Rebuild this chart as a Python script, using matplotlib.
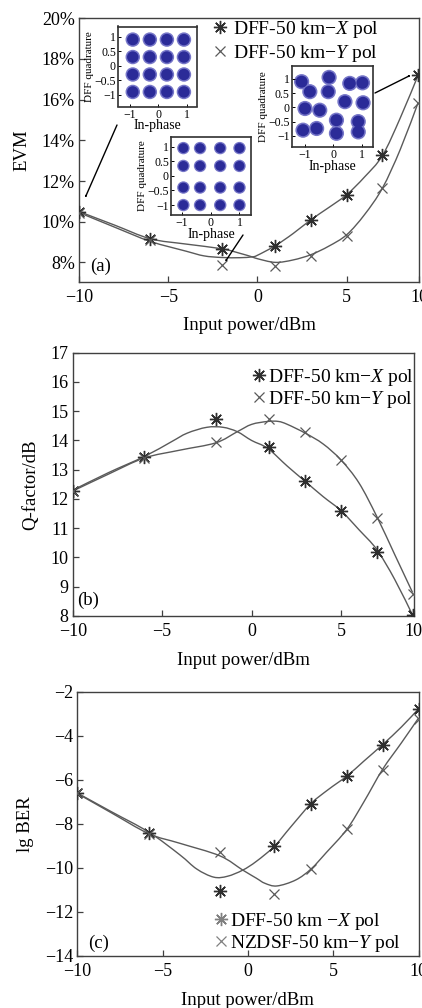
import numpy as np
import matplotlib
matplotlib.use("Agg")
import matplotlib.pyplot as plt
from matplotlib import ticker
from matplotlib.path import Path
from matplotlib.patches import PathPatch, FancyArrowPatch

plt.rcParams['font.family'] = ['Liberation Serif', 'DejaVu Serif']
plt.rcParams['mathtext.fontset'] = 'custom'
plt.rcParams['mathtext.rm'] = 'Liberation Serif'
plt.rcParams['mathtext.it'] = 'Liberation Serif:italic'

# ---------------- data ----------------
# (a) EVM
evm_x = [-10, -6, -2, 1, 3, 5, 7, 9]
evm_xpol = [10.5, 9.16, 8.67, 8.82, 10.1, 11.3, 13.3, 17.2]
evm_ypol = [10.45, 9.08, 7.87, 7.84, 8.33, 9.31, 11.68, 15.86]
evm_curveA_x = [-10, -8, -6, -4, -2, -1, -0.3, 0, 1, 2, 3, 4, 5, 6, 7, 8, 9]
evm_curveA_y = [10.5, 9.83, 9.16, 8.9, 8.67, 8.45, 8.27, 8.18, 8.0, 8.12, 8.38, 8.8, 9.36, 10.35, 11.65, 13.55, 15.85]
evm_curveB_x = [-10, -8, -6, -4, -3, -2, -1, -0.3, 0, 1, 2, 3, 4, 5, 6, 7, 8, 9]
evm_curveB_y = [10.45, 9.73, 9.03, 8.55, 8.32, 8.24, 8.23, 8.27, 8.35, 8.82, 9.42, 10.1, 10.7, 11.33, 12.2, 13.25, 15.1, 17.2]
evm_yticks = [8, 10, 12, 14, 16, 18, 20]

# (b) Q-factor
q_x = [-10, -6, -2, 1, 3, 5, 7, 9]
q_xpol = [12.27, 13.45, 14.72, 13.78, 12.6, 11.6, 10.2, 8.03]
q_ypol = [12.27, 13.4, 13.95, 14.75, 14.28, 13.33, 11.36, 8.75]
q_curveA_x = [-10, -8, -6, -4.5, -3.6, -2.5, -1.6, -0.8, 0, 0.9, 2, 3, 4, 5, 6, 7, 8, 9]
q_curveA_y = [12.3, 12.9, 13.45, 13.95, 14.25, 14.45, 14.45, 14.3, 14.0, 13.73, 13.12, 12.6, 12.08, 11.6, 10.95, 10.27, 9.25, 8.03]
q_curveB_x = [-10, -8, -6, -4, -2, -0.8, 0, 0.9, 1.5, 2, 3, 4, 5, 6, 7, 8, 9]
q_curveB_y = [12.27, 12.85, 13.4, 13.67, 13.92, 14.3, 14.55, 14.65, 14.65, 14.55, 14.25, 13.88, 13.33, 12.55, 11.4, 10.1, 8.8]

# (c) lg BER
ber_x = [-10, -5.8, -1.65, 1.55, 3.7, 5.8, 7.9, 10]
ber_xpol = [-6.58, -8.4, -11.03, -9.0, -7.08, -5.83, -4.4, -2.78]
ber_ypol = [-6.62, -8.48, -9.28, -11.2, -10.05, -8.22, -5.55, -3.22]
ber_curveA_x = [-10, -8, -5.8, -4, -3, -2, -1.2, -0.3, 0.5, 1.55, 2.5, 3.7, 4.7, 5.8, 6.8, 7.9, 9, 10]
ber_curveA_y = [-6.6, -7.45, -8.38, -9.4, -10.05, -10.42, -10.38, -10.1, -9.7, -9.02, -8.15, -7.08, -6.45, -5.83, -5.15, -4.4, -3.6, -2.78]
ber_curveB_x = [-10, -8, -5.8, -4, -1.65, -0.3, 0.5, 1.0, 1.7, 2.8, 3.7, 4.6, 5.8, 6.8, 7.9, 9, 10]
ber_curveB_y = [-6.62, -7.5, -8.45, -8.88, -9.45, -10.1, -10.47, -10.7, -10.82, -10.55, -10.05, -9.3, -8.25, -7.0, -5.52, -4.32, -3.2]

# constellation insets (cluster centres)
c1_levels = [-0.9, -0.3, 0.3, 0.9]
c2_levels_i = [-0.95, -0.37, 0.33, 1.0]
c2_levels_q = [0.95, 0.34, -0.4, -1.0]
c3_i = [-1.12, -0.83, -0.15, -0.18, 0.58, 1.03, 0.41, 1.05, -1.0, -0.48, 0.11, 0.88, -1.07, -0.59, 0.11, 0.88]
c3_q = [0.9, 0.55, 1.05, 0.55, 0.84, 0.86, 0.2, 0.16, -0.04, -0.1, -0.45, -0.5, -0.8, -0.74, -0.91, -0.86]

legend_ab = ["DFF-50 km\u2212$X$ pol", "DFF-50 km\u2212$Y$ pol"]
legend_c = ["DFF-50 km \u2212$X$ pol", "NZDSF-50 km\u2212$Y$ pol"]

# ---------------- styling ----------------
LINE_C = '#5a5a5a'
STAR_C = '#2e2e2e'
XM_C = '#5a5a5a'
BLUE = '#2b2b98'
HALO = '#7676c8'
STAR = (8, 2, 0)
TICK_FS = 13
LAB_FS = 13.5
LEG_FS = 14

W, H = 422, 1008
fig = plt.figure(figsize=(W / 100, H / 100), dpi=100)


def rect(l, r, t, b):
    return [l / W, 1 - b / H, (r - l) / W, (b - t) / H]


def style(ax):
    for s in ax.spines.values():
        s.set_color('#404040')
        s.set_linewidth(1.0)
    ax.tick_params(direction='in', length=4, width=0.9, colors='#404040',
                   labelsize=TICK_FS, labelcolor='black', pad=3)
    ax.tick_params(axis='x', pad=5)


def smooth_curve(ax, xs, ys):
    # smooth Bezier path through the read curve knots
    pts = np.column_stack([xs, ys]).astype(float)
    n = len(pts)
    verts = [pts[0]]
    codes = [Path.MOVETO]
    for i in range(n - 1):
        p0 = pts[i - 1] if i > 0 else pts[i]
        p1, p2 = pts[i], pts[i + 1]
        p3 = pts[i + 2] if i + 2 < n else pts[i + 1]
        verts += [p1 + (p2 - p0) / 6.0, p2 - (p3 - p1) / 6.0, p2]
        codes += [Path.CURVE4] * 3
    ax.add_patch(PathPatch(Path(verts, codes), facecolor='none', edgecolor=LINE_C,
                           lw=1.0, zorder=2))


def draw(ax, xs, ya, yb, cax, cay, cbx, cby):
    smooth_curve(ax, cax, cay)
    smooth_curve(ax, cbx, cby)
    ax.plot(xs, ya, linestyle='none', marker=STAR, markersize=9.5, mew=1.0,
            color=STAR_C, zorder=3)
    ax.plot(xs, yb, linestyle='none', marker='x', markersize=7, mew=0.9,
            color=XM_C, zorder=3)


def handles(ax, col1, col2):
    return [ax.plot([], [], linestyle='none', marker=STAR, markersize=9.5, mew=1.0, color=col1)[0],
            ax.plot([], [], linestyle='none', marker='x', markersize=7, mew=0.9, color=col2)[0]]


# ---------- panel (a) ----------
axa = fig.add_axes(rect(79, 419, 18.3, 281.7))
style(axa)
draw(axa, evm_x, evm_xpol, evm_ypol, evm_curveA_x, evm_curveA_y, evm_curveB_x, evm_curveB_y)
axa.set_xlim(-10, 9.05)
axa.set_ylim(7.05, 20)
axa.set_yticks(evm_yticks)
axa.yaxis.set_major_formatter(ticker.FuncFormatter(lambda v, p: f"{v:.0f}%"))
axa.set_xticks([-10, -5, 0, 5, 9.05])
axa.set_xticklabels(['\u221210', '\u22125', '0', '5', '10'])
axa.set_ylabel('EVM', fontsize=LAB_FS, labelpad=8)
axa.set_xlabel('Input power/dBm', fontsize=LAB_FS, labelpad=8)
axa.text(0.032, 0.058, '(a)', transform=axa.transAxes, fontsize=LAB_FS, va='center')
axa.legend(handles(axa, STAR_C, XM_C), legend_ab, loc='upper right', bbox_to_anchor=(0.885, 1.0),
           frameon=False, fontsize=LEG_FS, handlelength=0.7, handletextpad=0.3, borderpad=0.0,
           labelspacing=0.12, borderaxespad=0.05)


def inset(r, ci, cq, size, xl, yl):
    ax = fig.add_axes(rect(*r))
    ax.scatter(ci, cq, s=size * 1.6, color=HALO, edgecolors='none', zorder=1)
    ax.scatter(ci, cq, s=size, color=BLUE, edgecolors='none', zorder=2)
    ax.set_xlim(*xl)
    ax.set_ylim(*yl)
    ax.set_xticks([-1, 0, 1])
    ax.set_xticklabels(['\u22121', '0', '1'])
    ax.set_yticks([-1, -0.5, 0, 0.5, 1])
    ax.set_yticklabels(['\u22121', '\u22120.5', '0', '0.5', '1'])
    for s in ax.spines.values():
        s.set_color('#303030')
        s.set_linewidth(1.2)
    ax.tick_params(direction='in', length=2.5, width=0.7, labelsize=8.5, pad=1.5)
    ax.set_xlabel('In-phase', fontsize=10, labelpad=-1)
    ax.set_ylabel('DFF quadrature', fontsize=8, labelpad=0)
    return ax


g1i, g1q = np.meshgrid(c1_levels, c1_levels)
inset((118, 197, 26.5, 106.5), g1i.ravel(), g1q.ravel(), 68, (-1.42, 1.36), (-1.4, 1.35))
g2i, g2q = np.meshgrid(c2_levels_i, c2_levels_q)
inset((171, 251, 137, 215), g2i.ravel(), g2q.ravel(), 50, (-1.38, 1.4), (-1.34, 1.33))
inset((291.7, 372.7, 66, 147.3), c3_i, c3_q, 75, (-1.47, 1.39), (-1.4, 1.45))

# arrows (figure pixel coords)
arrow_kw = dict(arrowstyle='-|>,head_length=0.55,head_width=0.22', color='black', lw=1.0,
                shrinkA=0, shrinkB=0)
for (x0, y0), (x1, y1) in [((117, 125), (85, 198)), ((243, 235), (225, 262)), ((375, 93), (411, 75))]:
    fig.add_artist(FancyArrowPatch((x0 / W, 1 - y0 / H), (x1 / W, 1 - y1 / H),
                                   transform=fig.transFigure, **arrow_kw))

# ---------- panel (b) ----------
axb = fig.add_axes(rect(72.7, 413.5, 352.7, 616))
style(axb)
draw(axb, q_x, q_xpol, q_ypol, q_curveA_x, q_curveA_y, q_curveB_x, q_curveB_y)
axb.set_xlim(-10, 9.05)
axb.set_ylim(8, 17)
axb.set_yticks(range(8, 18))
axb.set_xticks([-10, -5, 0, 5, 9.05])
axb.set_xticklabels(['\u221210', '\u22125', '0', '5', '10'])
axb.set_ylabel('Q-factor/dB', fontsize=LAB_FS, labelpad=8)
axb.set_xlabel('Input power/dBm', fontsize=LAB_FS, labelpad=9)
axb.text(0.013, 0.061, '(b)', transform=axb.transAxes, fontsize=LAB_FS, va='center')
axb.legend(handles(axb, STAR_C, XM_C), legend_ab, loc='upper right', bbox_to_anchor=(1.0, 0.945),
           frameon=False, fontsize=LEG_FS, handlelength=0.7, handletextpad=0.1, borderpad=0.0,
           labelspacing=0.05, borderaxespad=0.0)

# ---------- panel (c) ----------
axc = fig.add_axes(rect(77.3, 418.5, 691.7, 956))
style(axc)
draw(axc, ber_x, ber_xpol, ber_ypol, ber_curveA_x, ber_curveA_y, ber_curveB_x, ber_curveB_y)
axc.set_xlim(-10, 10)
axc.set_ylim(-14, -2)
axc.set_yticks(range(-14, -1, 2))
axc.set_xticks([-10, -5, 0, 5, 10])
axc.set_ylabel('lg BER', fontsize=LAB_FS, labelpad=8)
axc.set_xlabel('Input power/dBm', fontsize=LAB_FS, labelpad=9)
axc.text(0.032, 0.049, '(c)', transform=axc.transAxes, fontsize=LAB_FS, va='center')
axc.legend(handles(axc, '#808080', '#808080'), legend_c, loc='lower right', bbox_to_anchor=(0.955, 0.0),
           frameon=False, fontsize=LEG_FS, handlelength=0.7, handletextpad=0.15, borderpad=0.0,
           labelspacing=0.05, borderaxespad=0.1)

fig.savefig('out.png', dpi=100)
